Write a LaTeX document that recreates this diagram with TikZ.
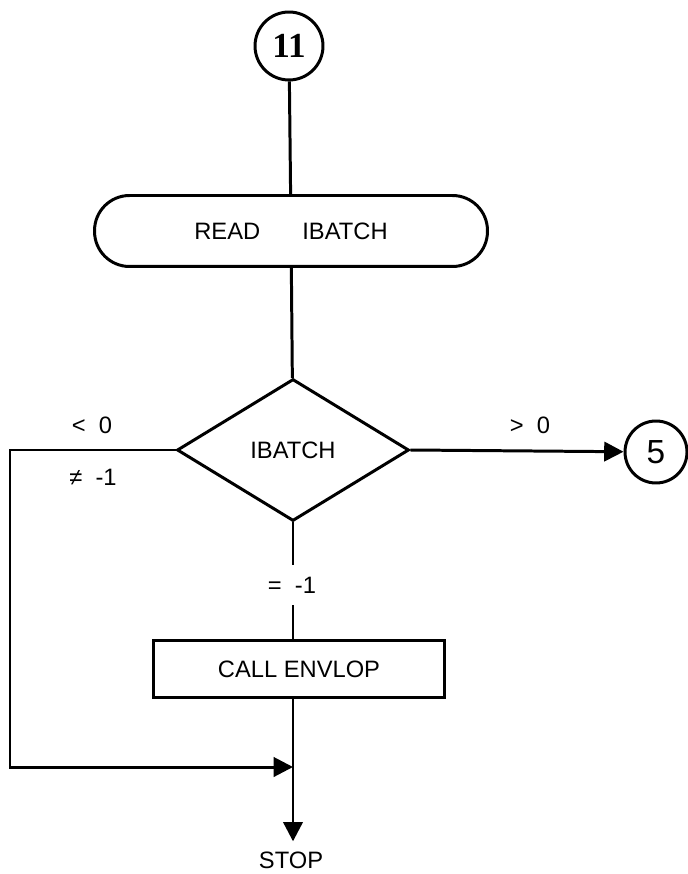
\documentclass[tikz,border=0pt]{standalone}
\usepackage{fontspec}
\setmainfont{Liberation Sans}
\newfontfamily\numfont{Liberation Serif}
\usetikzlibrary{shapes.geometric,arrows.meta}

\begin{document}
\begin{tikzpicture}[x=0.02cm,y=-0.02cm,line width=1.7pt,
	every node/.style={font=\fontsize{13.5}{15}\selectfont},
	conncirc/.style={draw,circle,inner sep=0pt,minimum size=#1},
	decision/.style={draw,diamond,inner sep=0pt,minimum width=4.64cm,minimum height=2.84cm},
	process/.style={draw,rectangle,minimum width=5.84cm,minimum height=1.14cm},
	readbox/.style={draw,rectangle,rounded corners=0.7cm,minimum width=7.86cm,minimum height=1.42cm},
	branch/.style={inner sep=0pt},
	flow/.style={-{Triangle[length=11pt,width=11pt]}}]
	\useasboundingbox (0,0) rectangle (688,874);

	\node[conncirc=1.36cm,font=\fontsize{20}{20}\selectfont\numfont\bfseries] (c11) at (289,46) {11};
	\node[readbox] (read) at (291,231) {READ\hspace{24pt}IBATCH};
	\node[decision] (test) at (293,450) {IBATCH};
	\node[process] (call) at (299,669) {CALL ENVLOP};
	\node[conncirc=1.24cm,font=\fontsize{19}{19}\selectfont] (c5) at (656,452) {5};
	\node[inner sep=5pt] (stop) at (291,860) {STOP};

	\node[branch] (lt) at (92,425) {< \ 0};
	\node[branch] (ne) at (93,477) {≠ \ -1};
	\node[branch] (gt) at (530,425) {> \ 0};
	\node[branch,minimum height=0.76cm] (eq) at (292,585) {= \ -1};

	\coordinate (corner) at (10,450);
	\coordinate (join) at (293,767);

	\draw (c11) -- (read);
	\draw (read) -- (test);
	\draw[flow] (test.east) -- (c5);
	\draw (test.south) -- (test.south |- eq.north);
	\draw (test.south |- eq.south) -- (test.south |- call.north);
	\draw[flow] (test.west) -- (corner) |- (join);
	\draw[flow] (test.south |- call.south) -- (test.south |- stop.north);
\end{tikzpicture}
\end{document}
